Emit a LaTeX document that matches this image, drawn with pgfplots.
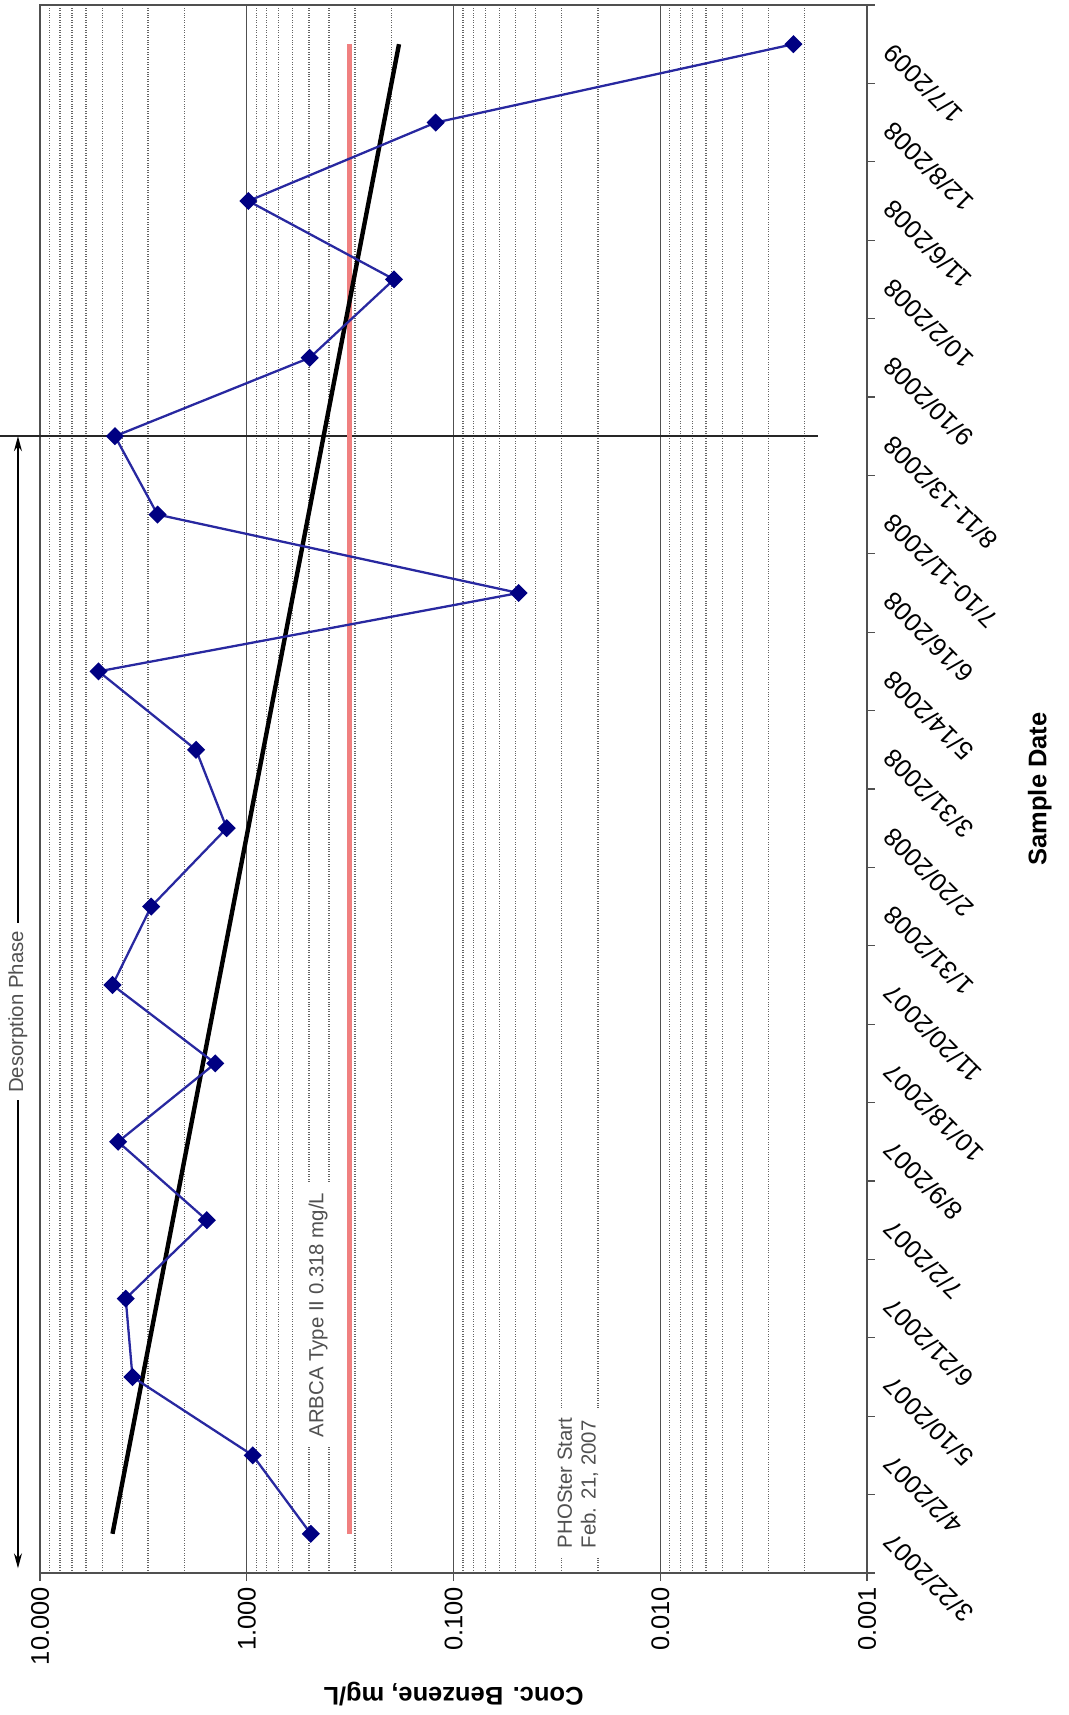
\documentclass[border=0pt]{standalone}
\usepackage{pgfplots}
\pgfplotsset{compat=1.18}
\usepackage{fontspec}
\setmainfont{Liberation Sans}
\usetikzlibrary{arrows.meta}
\definecolor{navyline}{RGB}{40,40,160}
\definecolor{navymark}{RGB}{0,0,130}
\definecolor{redline}{RGB}{240,128,128}
\definecolor{gridmaj}{RGB}{80,80,80}
\definecolor{gridmin}{RGB}{100,100,100}
\definecolor{anno}{RGB}{80,80,80}
\begin{document}
\begin{tikzpicture}
\begin{axis}[name=ax, scale only axis, width=165.4mm, height=313.6mm,
 xmode=log, xmin=0.001, xmax=10, x dir=reverse,
 ymin=-0.5, ymax=19.5,
 clip=false,
 axis line style={draw=gridmaj, line width=0.7pt},
 xtick={0.001,0.01,0.1,1,10},
 xticklabels={0.001,0.010,0.100,1.000,10.000},
 xticklabel style={rotate=90, anchor=east, font=\fontsize{14.5}{17}\selectfont},
 xmajorgrids=true, xminorgrids=true, ymajorgrids=false,
 major grid style={solid, draw=gridmaj, line width=0.8pt},
 minor grid style={densely dotted, draw=gridmin, line width=0.8pt},
 tick align=outside, major tick length=1.6mm, minor tick length=0pt,
 tick style={draw=gridmaj, line width=0.7pt},
 xtick pos=left,
 ytick pos=right, yticklabel pos=right,
 ytick={-0.5,0.5,...,19.5}, yticklabels={},
 extra y ticks={0,1,...,19},
 extra y tick labels={3/22/2007,4/2/2007,5/10/2007,6/21/2007,7/2/2007,8/9/2007,10/18/2007,11/20/2007,1/31/2008,2/20/2008,3/31/2008,5/14/2008,6/16/2008,7/10-11/2008,8/11-13/2008,9/10/2008,10/2/2008,11/6/2008,12/8/2008,1/7/2009},
 extra y tick style={major tick length=0pt},
 yticklabel shift=3.4mm,
 yticklabel style={rotate=135, anchor=east, font=\fontsize{14.5}{17}\selectfont},
 xlabel={Conc. Benzene, mg/L},
 xlabel style={at={(axis description cs:0.5,-0.0772)}, anchor=center, rotate=180, font=\bfseries\fontsize{14.5}{17}\selectfont},
 ylabel={Sample Date},
 ylabel style={at={(axis description cs:1.209,0.5)}, anchor=center, font=\bfseries\fontsize{14.5}{17}\selectfont},
]
% boundary line
\addplot[black!85, line width=1.4pt, forget plot] coordinates {(15.6,14) (0.00173,14)};
% ARBCA limit
\addplot[redline, line width=2.5pt, forget plot] coordinates {(0.318,0) (0.318,19)};
% trend line
\addplot[black, line width=2.5pt, forget plot] coordinates {(4.46,0) (0.1835,19)};
% benzene concentrations
\addplot[color=navyline, line width=1.3pt, mark=square*, mark size=1.05mm,
  mark options={rotate=45, fill=navymark, draw=navymark, solid}] coordinates {
 (0.49,0) (0.935,1) (3.57,2) (3.85,3) (1.56,4) (4.19,5) (1.42,6) (4.46,7)
 (2.90,8) (1.25,9) (1.76,10) (5.21,11) (0.0484,12) (2.70,13) (4.34,14)
 (0.496,15) (0.194,16) (0.982,17) (0.122,18) (0.00227,19)};
\draw[{Stealth[length=3mm,width=1.6mm]}-{Stealth[length=3mm,width=1.6mm]}, line width=0.8pt, black]
  (axis cs:12.78,14) -- (axis cs:12.78,-0.44);
\node[rotate=90, fill=white, inner sep=1.5mm, text=anno, font=\fontsize{11.6}{13.5}\selectfont]
  at (axis cs:12.78,6.656) {Desorption Phase};
\node[rotate=90, fill=white, inner sep=2mm, text=anno, font=\fontsize{11.6}{13.5}\selectfont]
  at (axis cs:0.452,2.79) {ARBCA Type II 0.318 mg/L};
\node[rotate=90, fill=white, inner sep=2mm, align=left, text=anno, font=\fontsize{11.6}{13.5}\selectfont]
  at (axis cs:0.0250,0.648) {PHOSter Start\\Feb. 21, 2007};
\end{axis}
\pgfresetboundingbox
\useasboundingbox ([shift={(-8mm,-28.4mm)}]ax.south west) rectangle ([shift={(40.2mm,1mm)}]ax.north east);
\end{tikzpicture}
\end{document}
